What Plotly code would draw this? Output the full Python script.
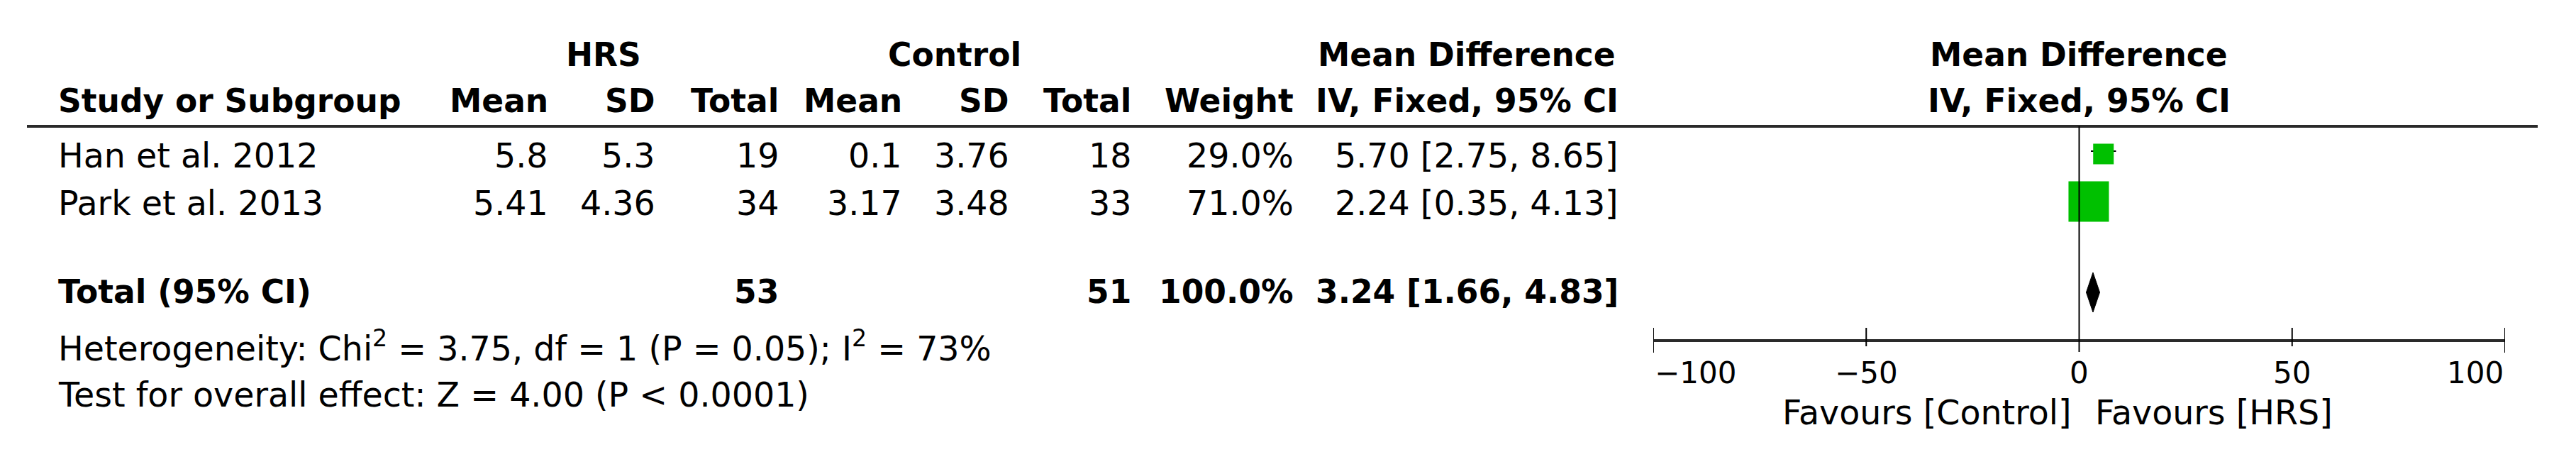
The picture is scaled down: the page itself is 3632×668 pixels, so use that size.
import plotly.graph_objects as go

W, H = 3632, 668
# the page body has an 8px default margin; all positions below are page pixels
OX, OY = 8, 8

# data
studies = ["Han et al. 2012", "Park et al. 2013"]
hrs_mean = [5.8, 5.41]
hrs_sd = [5.3, 4.36]
hrs_n = [19, 34]
ctl_mean = [0.1, 3.17]
ctl_sd = [3.76, 3.48]
ctl_n = [18, 33]
weights = [29.0, 71.0]
md = [5.70, 2.24]
ci_lo = [2.75, 0.35]
ci_hi = [8.65, 4.13]
total_md, total_lo, total_hi = 3.24, 1.66, 4.83
ticks = [-100, -50, 0, 50, 100]

# layout (page pixels)
row_y = [217, 284]
total_y = 411
axis_y = 480
line_y = 178
box_sizes = [29, 57]
col_right = [775, 926, 1100, 1274, 1425, 1597, 1826, 2284]
green = "#00c000"
FONT = "DejaVu Sans"
FS = 47.5
FS_B = 45.5
FS_TICK = 42


def px(x):
    return (x - OX) / W


fig = go.Figure()
ann = []


def txt(x, y, s, anchor="right", bold=False, xref="paper", size=None):
    if size is None:
        size = FS_B if bold else FS
    ann.append(dict(x=px(x) if xref == "paper" else x, y=y, xref=xref, yref="y",
                    text=f"<b>{s}</b>" if bold else s, showarrow=False,
                    xanchor=anchor, yanchor="middle",
                    font=dict(family=FONT, size=size, color="black")))


# headers
txt(851, 77, "HRS", "center", True)
txt(1346, 77, "Control", "center", True)
txt(2068, 77, "Mean Difference", "center", True)
txt(2931, 77, "Mean Difference", "center", True)
txt(80, 142, "Study or Subgroup", "left", True)
for c, h in zip(col_right, ["Mean", "SD", "Total", "Mean", "SD", "Total", "Weight",
                            "IV, Fixed, 95% CI"]):
    txt(c, 142, h, "right", True)
txt(2931, 142, "IV, Fixed, 95% CI", "center", True)

# study rows
for i, s in enumerate(studies):
    y = row_y[i] + 2
    txt(80, y, s, "left")
    vals = [f"{hrs_mean[i]:g}", f"{hrs_sd[i]:g}", str(hrs_n[i]),
            f"{ctl_mean[i]:g}", f"{ctl_sd[i]:g}", str(ctl_n[i]),
            f"{weights[i]:.1f}%", f"{md[i]:.2f} [{ci_lo[i]:.2f}, {ci_hi[i]:.2f}]"]
    for c, v in zip(col_right, vals):
        txt(c, y, v, "right")

# total row
txt(80, total_y, "Total (95% CI)", "left", True)
txt(col_right[2], total_y, str(sum(hrs_n)), "right", True)
txt(col_right[5], total_y, str(sum(ctl_n)), "right", True)
txt(col_right[6], total_y, f"{sum(weights):.1f}%", "right", True)
txt(col_right[7], total_y, f"{total_md:.2f} [{total_lo:.2f}, {total_hi:.2f}]", "right", True)

txt(80, 488, "Heterogeneity: Chi<sup>2</sup> = 3.75, df = 1 (P = 0.05); I<sup>2</sup> = 73%", "left")
txt(80, 556, "Test for overall effect: Z = 4.00 (P < 0.0001)", "left")

# axis tick labels
for t in ticks:
    lab = str(t).replace("-", "\u2212")
    anchor = "left" if t == ticks[0] else ("right" if t == ticks[-1] else "center")
    txt(t, 525, lab, anchor, xref="x", size=FS_TICK)
txt(2922, 581, "Favours [Control]", "right")
txt(2952, 581, "Favours [HRS]", "left")

shapes = [
    dict(type="line", xref="paper", yref="y", x0=px(38), x1=px(3578), y0=line_y, y1=line_y,
         line=dict(color="#2a2a2a", width=4)),
    dict(type="line", xref="x", yref="y", x0=ticks[0], x1=ticks[-1], y0=axis_y, y1=axis_y,
         line=dict(color="#2a2a2a", width=4)),
    dict(type="line", xref="x", yref="y", x0=0, x1=0, y0=line_y, y1=496,
         line=dict(color="black", width=2)),
]
for t in ticks:
    if t == 0:
        continue
    bottom = 497 if t in (ticks[0], ticks[-1]) else 488
    shapes.append(dict(type="line", xref="x", yref="y", x0=t, x1=t, y0=462, y1=bottom,
                       line=dict(color="black", width=2)))

# confidence interval whiskers (under the boxes)
for i in range(len(studies)):
    fig.add_trace(go.Scatter(x=[ci_lo[i], ci_hi[i]], y=[row_y[i] - 4, row_y[i] - 4],
                             mode="lines", line=dict(color="black", width=2),
                             hoverinfo="skip"))

# study boxes
fig.add_trace(go.Scatter(x=md, y=row_y, mode="markers",
                         marker=dict(symbol="square", size=box_sizes, color=green,
                                     opacity=1, line=dict(width=0)),
                         hoverinfo="skip"))

# pooled diamond
fig.add_trace(go.Scatter(x=[total_lo, total_md, total_hi, total_md, total_lo],
                         y=[total_y + 1, total_y - 27, total_y + 1, total_y + 29, total_y + 1],
                         mode="lines", fill="toself", fillcolor="black",
                         line=dict(color="black", width=1), hoverinfo="skip"))

fig.update_layout(
    width=W, height=H, margin=dict(l=0, r=0, t=0, b=0),
    paper_bgcolor="white", plot_bgcolor="white", showlegend=False,
    xaxis=dict(domain=[px(2331), px(3532)], range=[-100, 100], visible=False),
    yaxis=dict(domain=[0, 1], range=[H + OY, OY], visible=False),
    annotations=ann, shapes=shapes,
)

fig.write_html("out.html")
